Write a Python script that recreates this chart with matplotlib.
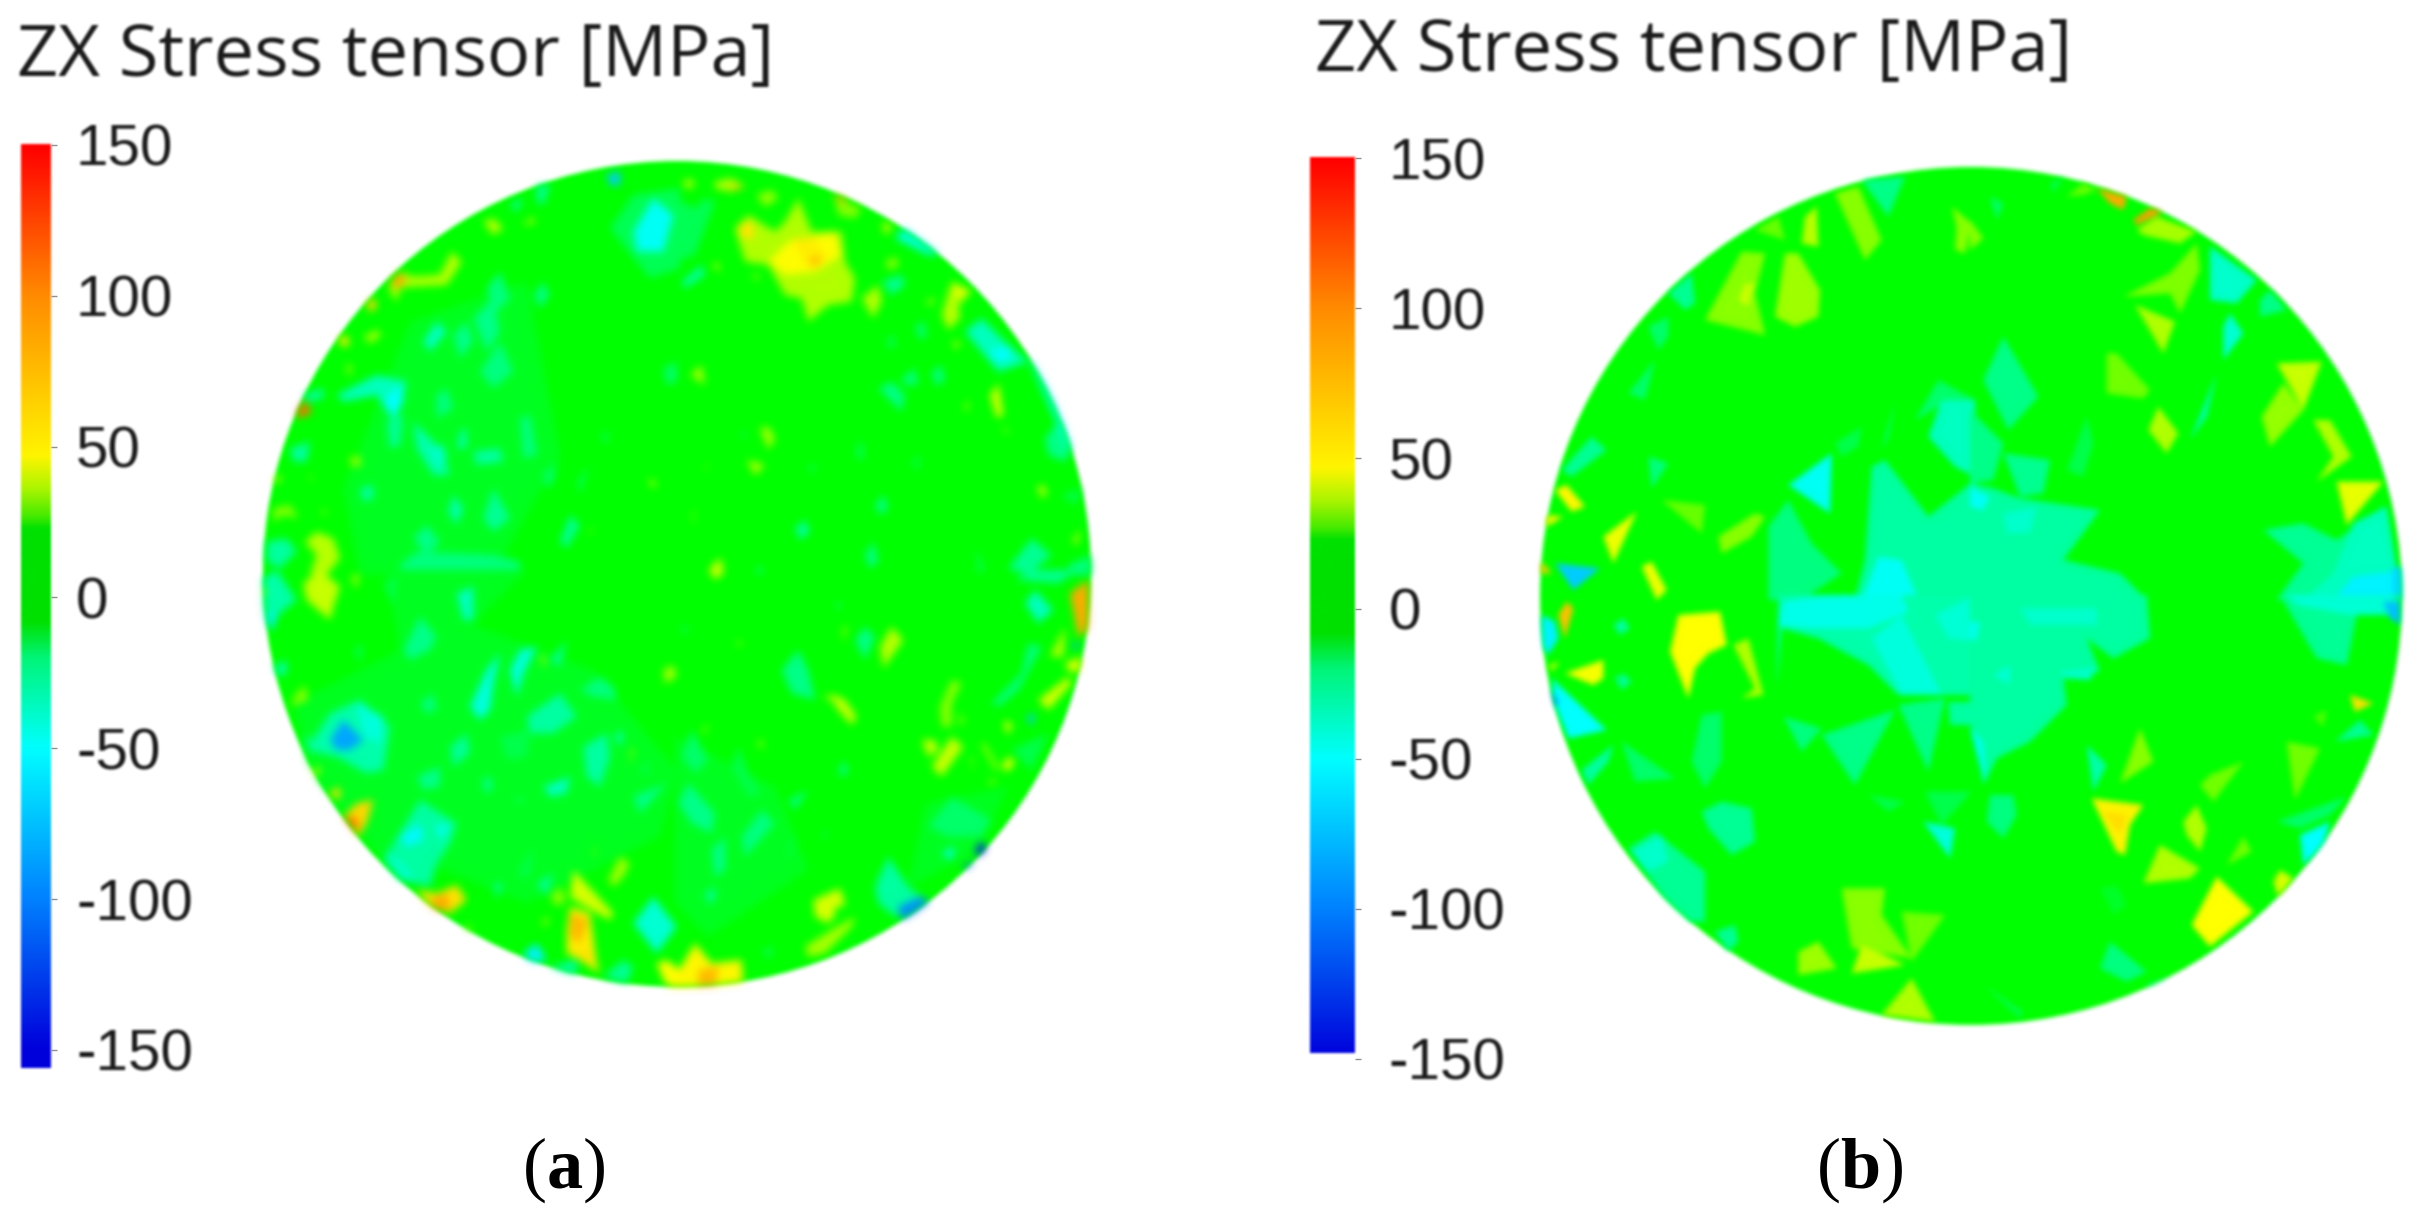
import numpy as np
import matplotlib
matplotlib.use('Agg')
import matplotlib.pyplot as plt
from matplotlib.collections import PolyCollection
from matplotlib.colors import LinearSegmentedColormap, Normalize
from matplotlib.patches import Ellipse

plt.rcParams['mathtext.fontset'] = 'custom'
plt.rcParams['mathtext.rm'] = 'Liberation Serif'
plt.rcParams['mathtext.bf'] = 'Liberation Serif:bold'

title = 'ZX Stress tensor [MPa]'
ticks = [150, 100, 50, 0, -50, -100, -150]
tick_labels = ['150', '100', '50', '0', '-50', '-100', '-150']
base_value = 8

# colour scale: value, rgb
scale_values = [-150, -100, -50, -20, -8, 23, 27, 36, 47, 100, 150]
scale_rgb = [(0, 0, 220), (0, 130, 255), (0, 255, 255), (0, 255, 128), (0, 255, 0),
             (0, 255, 0), (70, 255, 0), (170, 255, 0), (255, 255, 0), (255, 140, 0), (255, 0, 0)]
bar_rgb = [(0, 0, 220), (0, 130, 255), (0, 255, 255), (0, 245, 120), (0, 225, 0),
           (0, 225, 0), (70, 235, 0), (170, 245, 0), (255, 245, 0), (255, 140, 0), (255, 0, 0)]

# stress patches, one row per patch: value, x1, y1, x2, y2, ...
# (positions are in 3x crop pixels of each quarter of the disc)
a_ul = [
    (-11, 450,500, 800,380, 900,900, 700,1260, 300,1260, 250,1000, 350,750),
    (-16, 1050,220, 1120,120, 1260,100, 1260,340, 1170,370),
    (-48, 1120,230, 1180,130, 1240,180, 1210,290, 1130,290),
    (-20, 820,420, 850,380, 870,420, 840,460), (-20, 680,400, 720,350, 750,430, 700,480),
    (-35, 490,560, 530,500, 560,530, 510,590), (-22, 580,540, 620,500, 640,560, 600,610),
    (-22, 640,490, 700,430, 720,530, 680,590), (-20, 660,650, 720,560, 760,650, 700,700),
    (-35, 230,720, 350,660, 440,680, 420,760, 400,800, 350,720, 250,740),
    (-50, 370,740, 420,690, 430,740, 400,780), (-25, 380,800, 430,780, 420,870, 390,880),
    (-30, 460,800, 540,880, 570,960, 520,960, 470,880), (-38, 510,880, 550,870, 560,920, 530,930),
    (-28, 640,890, 720,880, 730,920, 650,930), (-20, 780,790, 810,780, 830,900, 790,910),
    (-18, 850,960, 890,920, 880,980, 860,1000), (-15, 950,980, 990,930, 960,1020),
    (-30, 580,1020, 610,1060, 590,1110, 565,1070), (-25, 700,1000, 750,1090, 700,1130, 670,1090),
    (-25, 900,1160, 930,1080, 960,1110, 920,1180), (-28, 300,1000, 340,990, 340,1030, 310,1040),
    (-22, 460,1150, 500,1110, 540,1160, 500,1200), (-28, 20,1160, 80,1150, 110,1190, 60,1240, 20,1220),
    (-30, 130,720, 190,700, 190,730, 140,740), (-28, 90,880, 150,860, 140,920, 100,920),
    (-20, 420,1230, 470,1190, 700,1200, 780,1220, 780,1260, 420,1260),
    (-20, 530,720, 560,700, 580,760, 530,790), (-28, 600,830, 620,820, 620,880, 590,880),
    (-15, 1020,840, 1050,830, 1040,870), (-18, 1210,640, 1250,620, 1250,680, 1220,690),
    (-70, 1040,60, 1080,50, 1080,90, 1050,90), (-25, 830,90, 870,90, 850,150, 830,140),
    (-30, 750,150, 790,130, 770,170),
    (38, 670,200, 700,190, 730,220, 700,240), (36, 785,210, 820,185, 825,205),
    (38, 390,380, 420,350, 460,365, 540,360, 575,290, 605,320, 560,390, 450,395, 420,400, 410,440, 390,410),
    (85, 390,390, 420,350, 440,380, 410,400), (65, 320,440, 345,430, 350,460, 325,470),
    (36, 310,545, 350,525, 365,540, 330,565), (55, 235,550, 260,540, 270,570, 245,575),
    (36, 260,630, 270,625, 275,660, 262,655), (110, 112,770, 135,735, 155,775, 110,790),
    (33, 265,910, 300,900, 305,930, 280,940), (33, 40,1060, 90,1050, 115,1090, 70,1080, 40,1100),
    (38, 135,1160, 170,1130, 220,1150, 240,1210, 200,1260, 150,1260, 170,1200),
    (30, 180,1070, 200,1060, 195,1085), (33, 145,965, 155,960, 155,980),
    (34, 1170,970, 1190,985, 1185,1000, 1165,985), (40, 40,960, 70,970, 45,985),
    (30, 985,1120, 1000,1125, 990,1140),
]
a_ur = [
    (-16, 0,130, 60,160, 90,130, 120,140, 60,300, 0,320), (-28, 20,380, 80,330, 90,360, 30,400),
    (-42, 660,250, 690,215, 800,300, 760,300), (-25, 620,380, 680,360, 690,390, 650,420),
    (-35, 870,530, 920,490, 1000,570, 1060,620, 970,650), (-50, 940,590, 1000,570, 1010,610, 970,620),
    (-18, 720,510, 750,500, 755,550, 730,550), (-15, 635,550, 660,540, 660,580, 640,580),
    (-22, 610,700, 650,680, 690,720, 680,770, 640,730), (-20, 680,670, 720,640, 730,690, 690,690),
    (-20, 770,650, 800,630, 810,680, 780,690), (-15, 540,890, 560,850, 570,910, 550,915),
    (-15, 710,920, 735,900, 730,950), (-22, 600,1050, 625,1020, 640,1060, 615,1080),
    (-28, 360,1120, 390,1095, 405,1130, 375,1155), (-22, 570,1200, 595,1160, 610,1220, 585,1240),
    (-22, 1110,850, 1150,800, 1190,880, 1170,920, 1120,900), (-25, 1000,1240, 1070,1150, 1130,1200, 1060,1260),
    (-15, 1160,1020, 1220,1000, 1200,1050), (-15, 900,1180, 930,1240, 910,1260),
    (-20, 1180,1230, 1250,1200, 1250,1260, 1190,1260), (-15, 195,830, 215,830, 205,855),
    (-15, 400,930, 425,930, 410,960), (-20, 240,1240, 270,1240, 250,1260),
    (-50, 1060,610, 1100,640, 1210,870, 1180,880),
    (37, 180,220, 220,180, 300,230, 330,200, 370,130, 410,230, 500,230, 510,320, 540,370, 530,440, 460,450, 400,500, 380,430, 330,420, 280,330, 210,320),
    (48, 280,320, 340,260, 480,230, 500,300, 420,350, 330,360), (55, 350,250, 420,250, 450,310, 400,340),
    (75, 400,310, 450,300, 420,340), (58, 190,215, 230,195, 240,250, 200,250),
    (36, 20,80, 50,70, 60,90, 40,105), (38, 120,80, 170,70, 210,95, 170,110, 120,100),
    (75, 170,90, 210,95, 170,105), (34, 245,120, 290,105, 310,130, 270,155),
    (34, 110,330, 130,320, 135,355), (30, 225,360, 255,355, 250,380),
    (33, 630,320, 660,305, 675,330, 640,345), (37, 560,430, 610,390, 620,440, 595,490),
    (33, 750,435, 785,430, 765,455), (38, 800,480, 830,380, 890,410, 850,450, 855,490, 820,525),
    (45, 830,385, 885,405, 850,430), (35, 830,560, 860,560, 840,585),
    (42, 945,720, 970,685, 985,780, 965,790), (33, 865,760, 880,730, 880,770),
    (37, 1085,995, 1110,990, 1115,1020, 1100,1030), (33, 985,810, 1000,830, 990,840),
    (35, 1190,1160, 1215,1120, 1210,1170), (33, 480,130, 560,160, 540,190, 490,180),
    (80, 470,115, 520,135, 500,145), (40, 620,200, 655,215, 630,240),
    (36, 45,660, 80,630, 90,690), (36, 255,820, 280,815, 300,850, 280,885),
    (38, 215,915, 270,930, 240,960), (33, 90,930, 98,930, 95,950),
    (30, 50,1070, 60,1070, 52,1115), (40, 110,1230, 140,1210, 145,1260, 105,1260),
]
a_ll = [
    (-11, 100,400, 600,150, 1000,300, 1250,600, 1200,800, 800,1000, 550,900, 350,850, 150,600),
    (-11, 380,0, 800,0, 600,200, 420,260),
    (-30, 0,30, 50,0, 110,90, 60,130, 30,170, 10,130), (-55, 20,130, 50,130, 40,180, 25,170),
    (-30, 40,290, 80,270, 80,310, 60,320),
    (-30, 140,540, 210,430, 300,390, 390,470, 370,600, 320,610, 230,560),
    (-42, 290,400, 370,440, 360,520, 310,500), (-85, 210,510, 250,450, 310,510, 270,540, 230,540),
    (-28, 400,820, 480,690, 590,760, 570,820, 530,880, 510,950, 420,930, 370,870),
    (-52, 420,800, 480,760, 490,810, 440,830), (-45, 520,770, 570,760, 550,810),
    (-38, 370,850, 420,870, 470,930, 430,930), (-42, 630,410, 680,300, 720,250, 700,340, 690,420, 660,450),
    (-42, 750,300, 780,240, 830,230, 790,310, 770,380), (-28, 800,440, 900,370, 950,440, 880,490, 810,490),
    (-22, 430,240, 480,140, 530,200, 510,240, 450,270), (-25, 870,270, 920,210, 900,290),
    (-35, 590,70, 640,50, 640,150, 610,150), (-15, 370,40, 410,20, 400,110),
    (-20, 480,400, 520,370, 530,420, 500,430), (-28, 970,530, 1040,490, 1050,560, 1020,650, 980,620),
    (-30, 1060,500, 1090,480, 1085,530), (-20, 960,360, 1020,320, 1060,350, 1070,390, 1000,380),
    (-35, 850,650, 930,620, 920,670, 870,680), (-22, 670,620, 700,630, 690,670, 670,660),
    (-15, 760,680, 790,680, 785,710), (-25, 570,530, 620,490, 630,550, 580,590),
    (-22, 470,620, 540,590, 540,650, 490,660), (-15, 720,500, 810,480, 800,560, 740,570),
    (-15, 780,900, 820,830, 810,910, 780,930), (-22, 700,940, 730,940, 710,990),
    (-25, 830,940, 880,910, 860,980), (-22, 1120,680, 1220,640, 1140,730),
    (-15, 1140,600, 1170,570, 1160,620), (-40, 1120,1060, 1180,980, 1250,1070, 1190,1150),
    (-55, 790,1150, 830,1120, 860,1170, 810,1180), (-30, 870,1190, 950,1170, 950,1210, 890,1220),
    (-25, 1030,1220, 1090,1170, 1120,1190, 1100,1240), (-25, 130,500, 170,510, 150,550),
    (-15, 280,240, 310,220, 300,280),
    (40, 130,40, 180,0, 240,50, 220,110, 210,150, 140,90), (33, 270,20, 300,10, 290,60),
    (33, 110,370, 135,345, 145,390, 90,410), (60, 205,670, 240,650, 240,690),
    (65, 250,740, 290,700, 340,690, 320,760, 295,800), (110, 250,740, 290,745, 295,790),
    (60, 470,960, 530,970, 590,945, 620,990, 570,1030, 510,1010), (85, 510,990, 560,970, 570,1020, 525,1020),
    (40, 150,595, 185,595, 170,620), (33, 620,1060, 640,1080, 615,1085),
    (35, 1045,930, 1080,860, 1110,880, 1090,920, 1060,950), (42, 940,900, 1060,1030, 1050,1050, 960,1000, 930,980),
    (33, 870,980, 900,950, 920,990, 890,1010),
    (55, 920,1080, 930,1010, 990,1030, 1010,1180, 1020,1210, 960,1170, 920,1150),
    (78, 930,1030, 985,1050, 960,1120, 930,1100), (60, 940,1130, 1000,1150, 980,1180),
    (33, 845,1050, 870,1040, 855,1075), (47, 1190,1180, 1220,1170, 1260,1200, 1260,1260, 1215,1240),
    (35, 840,260, 855,255, 855,300), (36, 1210,300, 1240,285, 1250,320, 1215,340),
    (30, 1110,540, 1125,530, 1110,590), (40, 0,50, 20,60, 10,85), (30, 1000,840, 1010,830, 1005,870),
]
a_lr = [
    (-11, 0,500, 300,650, 400,900, 100,1100, 0,1000), (-11, 750,700, 1000,650, 900,850, 700,950),
    (-22, 320,300, 370,240, 400,300, 420,390, 350,370), (-35, 1050,100, 1080,60, 1135,120, 1090,160),
    (-20, 950,400, 1040,310, 1060,220, 1100,230, 1030,360, 970,410), (-22, 540,210, 570,170, 600,200, 570,270),
    (-20, 490,600, 510,570, 520,610, 500,620), (-20, 480,100, 500,100, 490,120), (-15, 15,170, 40,170, 30,200),
    (-18, 20,560, 50,480, 100,570, 60,610), (-15, 170,590, 190,530, 220,610, 260,670, 220,680),
    (-22, 10,700, 40,640, 120,730, 110,790, 50,760), (-22, 110,840, 150,800, 150,900, 120,920),
    (-20, 200,800, 260,720, 300,760, 210,860), (-20, 340,690, 400,660, 360,720),
    (-25, 90,970, 120,950, 120,990, 100,1000), (-18, 760,770, 830,680, 950,750, 920,800, 820,800),
    (-45, 800,850, 840,830, 830,870), (-28, 600,950, 640,860, 700,950, 740,980, 660,1040, 610,1000),
    (-95, 670,1010, 740,980, 770,1000, 680,1050), (-135, 900,840, 920,815, 940,840, 910,860),
    (-110, 860,890, 900,870, 880,900), (-70, 1055,440, 1080,430, 1070,470),
    (-85, 1190,220, 1215,220, 1200,240), (-25, 1020,30, 1080,0, 1210,0, 1150,40),
    (-15, 440,790, 460,780, 450,810), (-15, 340,830, 360,790, 340,880), (-15, 1010,540, 1120,490, 1070,600),
    (-15, 260,1140, 300,1130, 280,1170),
    (85, 1185,70, 1240,30, 1240,180, 1210,200), (38, 1125,260, 1170,170, 1165,260),
    (45, 1170,280, 1220,260, 1210,310, 1180,300), (42, 1090,390, 1180,320, 1190,340, 1120,420),
    (42, 985,450, 1015,465, 995,495), (45, 1000,560, 1020,575, 1000,605, 980,590),
    (38, 615,230, 650,170, 685,210, 625,295), (40, 440,380, 480,375, 510,390, 545,440, 530,465, 490,420, 470,390),
    (33, 795,410, 830,330, 860,340, 830,400, 830,470, 800,470), (40, 740,510, 780,510, 790,540, 760,560),
    (40, 770,590, 830,500, 865,530, 800,620), (33, 915,520, 930,520, 975,600, 960,600),
    (33, 935,630, 970,630, 950,645), (33, 850,430, 870,450, 855,470), (30, 885,560, 895,560, 890,610),
    (42, 100,0, 145,0, 125,30), (33, 185,210, 200,215, 190,235), (33, 80,480, 105,460, 85,495),
    (33, 245,520, 260,505, 265,540), (30, 500,170, 520,170, 505,220),
    (42, 415,990, 495,955, 510,1000, 460,1060, 420,1040), (36, 390,1130, 470,1080, 540,1040, 530,1070, 450,1150, 400,1160),
    (8, 480,1010, 510,1010, 510,1040, 480,1040),
    (50, 0,1220, 60,1120, 110,1180, 200,1170, 205,1240, 100,1260, 0,1260), (78, 70,1200, 130,1190, 120,1260, 70,1260),
]
b_ul = [
    (-22, 980,60, 1110,50, 1060,170), (-25, 80,930, 170,830, 215,870, 110,950),
    (-20, 340,890, 400,910, 350,985), (-18, 340,500, 400,470, 400,530, 370,570),
    (-18, 280,700, 360,600, 330,720), (-25, 400,400, 470,340, 480,430, 450,450),
    (-48, 760,975, 890,880, 885,1060), (-70, 60,1210, 195,1225, 115,1290),
    (-20, 700,1100, 760,1020, 830,1150, 920,1240, 800,1320, 700,1320),
    (-28, 990,1200, 1010,920, 1050,900, 1180,1070, 1320,960, 1320,1320, 960,1320),
    (-48, 980,1320, 1030,1190, 1100,1200, 1150,1320),
    (-18, 1140,780, 1210,660, 1320,720, 1230,730), (-35, 1180,830, 1220,720, 1320,720, 1320,950, 1260,920),
    (-15, 900,850, 980,800, 970,860, 920,890), (-20, 1040,870, 1080,720, 1060,830),
    (33, 510,480, 620,275, 690,280, 660,400, 690,525), (40, 610,420, 630,370, 660,370, 640,440),
    (35, 720,470, 750,280, 790,280, 855,390, 850,470, 780,500), (33, 900,100, 970,80, 1040,240, 990,300),
    (38, 810,170, 845,140, 850,260, 800,250), (30, 660,210, 730,170, 750,240),
    (33, 1250,140, 1310,190, 1290,280, 1260,270, 1265,200), (33, 550,1130, 660,1060, 690,1070, 650,1130, 560,1180),
    (30, 380,1020, 510,1035, 500,1120), (45, 205,1130, 305,1055, 235,1210),
    (45, 320,1220, 350,1205, 395,1290, 365,1320), (50, 60,990, 95,975, 150,1040, 110,1055),
    (50, 30,1065, 85,1070, 35,1100), (70, 15,1200, 50,1240, 15,1240),
]
b_ur = [
    (-22, 40,660, 100,530, 205,710, 115,810), (-22, 0,750, 100,850, 70,960, 0,970),
    (-24, 100,880, 240,900, 220,1000, 150,1010), (-15, 310,880, 350,770, 370,850, 340,950, 290,930),
    (-28, 0,970, 70,985, 150,1015, 390,1050, 280,1200, 450,1240, 530,1320, 0,1320),
    (-48, 0,980, 60,1010, 40,1050, 0,1040), (-38, 100,1060, 200,1040, 180,1120, 110,1120),
    (-38, 720,260, 860,360, 800,430, 720,420), (-40, 760,500, 780,460, 820,520, 760,600),
    (-30, 660,840, 740,640, 710,770), (-22, 870,420, 900,390, 950,450, 870,470),
    (-25, 880,1110, 1000,1090, 1100,1140, 1240,1040, 1295,1320, 920,1320, 1000,1210),
    (-35, 1150,1090, 1250,1040, 1295,1320, 1000,1320, 1090,1240),
    (-55, 1090,1320, 1150,1250, 1295,1230, 1295,1320), (-65, 1270,1220, 1320,1220, 1320,1320, 1270,1320),
    (-18, 60,110, 100,130, 80,180), (-15, 240,70, 280,50, 250,100),
    (85, 380,85, 470,110, 460,150, 420,130), (90, 490,180, 540,145, 580,155, 500,195),
    (36, 500,210, 560,170, 680,215, 630,250, 520,225), (30, 290,110, 340,70, 380,90, 340,105),
    (32, 460,410, 600,340, 680,250, 690,330, 630,460, 600,400), (37, 495,435, 615,485, 580,580),
    (31, 410,580, 440,580, 540,690, 520,715, 410,700), (37, 535,810, 565,740, 625,820, 590,880),
    (34, 875,770, 940,670, 1000,750, 900,860), (40, 920,610, 1055,605, 1000,750),
    (37, 1030,780, 1080,780, 1145,890, 1040,965, 1090,890), (44, 1100,965, 1240,965, 1130,1095),
    (33, 0,180, 40,235, 0,270),
]
b_ll = [
    (-55, 20,60, 60,80, 70,130, 40,180, 20,150), (-28, 235,90, 265,70, 285,100, 255,120),
    (-25, 240,250, 265,235, 290,260, 260,285), (-50, 50,250, 215,405, 100,430, 60,330),
    (-90, 45,280, 70,320, 60,340), (-28, 140,525, 235,450, 220,500, 160,570),
    (-18, 260,440, 420,550, 300,560), (-18, 470,500, 500,360, 560,350, 560,500, 510,580),
    (-25, 500,650, 560,620, 650,640, 660,740, 590,780, 520,700),
    (-25, 280,760, 360,710, 510,830, 510,980, 440,980), (-38, 290,770, 380,720, 400,800, 340,830),
    (-25, 540,1010, 600,990, 610,1040, 580,1070),
    (-30, 725,280, 740,100, 850,130, 1000,210, 1090,300, 1210,300, 1320,300, 1320,0, 730,0),
    (-45, 730,90, 745,20, 870,0, 1100,0, 1120,50, 1000,100, 820,100), (-42, 1010,130, 1100,60, 1220,300, 1100,300),
    (-40, 1200,60, 1320,0, 1320,140, 1240,130), (-22, 860,420, 1080,345, 960,570),
    (-20, 745,365, 860,400, 800,470), (-22, 1090,330, 1230,310, 1180,530),
    (-28, 1245,390, 1320,390, 1320,320, 1240,320), (-15, 1000,600, 1110,620, 1060,650),
    (-15, 1170,590, 1310,590, 1220,690), (-42, 1165,680, 1260,700, 1245,790),
    (47, 405,170, 430,60, 555,50, 575,150, 520,175, 480,220, 460,310), (37, 595,150, 640,130, 685,300, 620,310, 660,280),
    (46, 90,235, 205,195, 205,250, 175,270), (38, 40,210, 75,200, 50,230),
    (75, 70,60, 95,20, 115,40, 90,130), (33, 920,880, 1050,880, 1040,960, 1130,1090, 950,1060),
    (31, 1100,950, 1230,960, 1130,1100), (40, 950,1135, 980,1050, 1110,1110),
    (35, 790,1070, 850,1040, 905,1120, 790,1140), (37, 1040,1260, 1130,1150, 1200,1280),
]
b_lr = [
    (-28, 0,0, 530,0, 540,130, 430,190, 350,130, 390,230, 280,250, 290,330, 180,440, 80,490, 40,570, 0,380),
    (-40, 70,240, 120,210, 120,270), (-38, 270,230, 380,215, 360,255, 280,250), (-38, 150,40, 380,40, 380,90, 180,90),
    (-45, 0,400, 40,440, 50,560, 20,480), (-45, 0,80, 30,80, 20,140, 0,130),
    (-30, 350,450, 410,510, 370,590), (-20, 60,600, 130,600, 140,660, 100,730, 50,680),
    (-25, 930,0, 1290,0, 1280,60, 1160,60, 1130,210, 1040,190), (-40, 950,0, 1270,0, 1270,60, 1140,60, 980,30),
    (-75, 1240,20, 1290,20, 1290,90, 1260,70), (-25, 1095,440, 1170,375, 1210,420),
    (-18, 920,680, 1130,605, 1080,660, 990,700), (-50, 990,720, 1080,680, 1060,750, 1000,810),
    (-20, 390,1120, 420,1040, 530,1130, 470,1160), (-12, 390,880, 440,870, 470,930, 430,960),
    (-15, 40,1170, 160,1250, 150,1270), (-30, 530,1170, 640,1130, 560,1190),
    (52, 365,610, 520,630, 480,690, 465,780, 440,770), (62, 400,650, 470,660, 450,720),
    (33, 450,565, 510,400, 550,500), (37, 640,680, 680,630, 710,700, 690,770, 650,720),
    (37, 520,865, 570,750, 690,820, 660,850), (31, 690,570, 720,540, 820,500, 730,620),
    (31, 770,810, 820,725, 845,770), (47, 665,990, 740,845, 850,950, 720,1055),
    (42, 910,860, 930,825, 970,850, 925,905), (31, 950,440, 1050,460, 975,615),
    (60, 1140,300, 1210,325, 1155,350), (28, 1030,365, 1070,345, 1060,395),
]

norm = Normalize(-150, 150)
stops = [(v + 150) / 300 for v in scale_values]
field_cmap = LinearSegmentedColormap.from_list(
    'field', [(s, tuple(c / 255 for c in rgb)) for s, rgb in zip(stops, scale_rgb)], N=1024)
bar_cmap = LinearSegmentedColormap.from_list(
    'bar', [(s, tuple(c / 255 for c in rgb)) for s, rgb in zip(stops, bar_rgb)], N=1024)


def soften(reach):
    # the reference is a blurry screenshot, so smear the layer a bit
    def blur(img, dpi):
        pad = 2 * reach + 2
        a = np.pad(img, ((pad, pad), (pad, pad), (0, 0))).astype(float)
        a[..., :3] *= a[..., 3:]
        for _ in range(2):
            for axis in (0, 1):
                a = sum(np.roll(a, k, axis=axis) for k in range(-reach, reach + 1)) / (2 * reach + 1)
        alpha = np.maximum(a[..., 3:], 1e-6)
        a[..., :3] = np.clip(a[..., :3] / alpha, 0, 1)
        return a, -pad, -pad
    return blur


def quarter(rows, x0, y0):
    polys = []
    vals = []
    for row in rows:
        xy = np.array(row[1:], dtype=float).reshape(-1, 2)
        polys.append(xy / 3 + (x0, y0))
        vals.append(row[0])
    return polys, vals


def draw_disc(ax, centre, rx, ry, quarters, reach):
    disc = Ellipse(centre, 2 * rx, 2 * ry, facecolor=field_cmap(norm(base_value)), edgecolor='none')
    ax.add_patch(disc)
    disc.set_agg_filter(soften(2))
    polys = []
    vals = []
    for rows, x0, y0 in quarters:
        p, v = quarter(rows, x0, y0)
        polys += p
        vals += v
    coll = PolyCollection(polys, array=np.array(vals, dtype=float), cmap=field_cmap, norm=norm,
                          edgecolors='none')
    ax.add_collection(coll)
    coll.set_clip_path(disc)
    coll.set_agg_filter(soften(reach))


def draw_bar(fig, left, right, top, bottom, vmin, vmax, ylow, yhigh, pad):
    H = 1216.0
    W = 2424.0
    cax = fig.add_axes([left / W, (H - bottom) / H, (right - left) / W, (bottom - top) / H])
    cax.patch.set_alpha(0)
    vals = np.linspace(vmax, vmin, 600).reshape(-1, 1)
    im = cax.imshow(vals, cmap=bar_cmap, norm=norm, extent=(0, 1, vmin, vmax), aspect='auto')
    im.set_agg_filter(soften(1))
    cax.set_xlim(0, 1)
    cax.set_ylim(ylow, yhigh)
    cax.set_xticks([])
    cax.yaxis.tick_right()
    cax.set_yticks(ticks, tick_labels, family='Liberation Sans', fontsize=42, color='#1a1a1a')
    cax.tick_params(axis='y', length=4, width=1, color='#909090', pad=pad)
    for s in cax.spines.values():
        s.set_visible(False)
    for t in cax.get_yticklabels():
        t.set_agg_filter(soften(1))
    return cax


fig = plt.figure(figsize=(24.24, 12.16), dpi=100, facecolor='white')
ax = fig.add_axes([0, 0, 1, 1])
ax.set_xlim(0, 2424)
ax.set_ylim(1216, 0)
ax.axis('off')

draw_disc(ax, (677, 574), 414, 413,
          [(a_ul, 260, 155), (a_ur, 675, 155), (a_ll, 260, 570), (a_lr, 675, 570)], 3)
draw_disc(ax, (1971, 596), 431, 429,
          [(b_ul, 1535, 160), (b_ur, 1970, 160), (b_ll, 1535, 595), (b_lr, 1970, 595)], 2)

draw_bar(fig, 21, 51, 144, 1068, -156, 150.3, -156, 150.3, 14)
draw_bar(fig, 1310, 1355, 157, 1059, -148, 150.4, -150, 150.4, 20)

for x, y in [(17, 76), (1315, 71)]:
    t = ax.text(x, y, title, family='Open Sans', fontsize=52, color='#1a1a1a', va='baseline', ha='left')
    t.set_agg_filter(soften(1))
ax.text(564, 1170, r'($\mathbf{a}$)', family='Liberation Serif', fontsize=52, color='black',
        ha='center', va='center')
ax.text(1860, 1170, r'($\mathbf{b}$)', family='Liberation Serif', fontsize=52, color='black',
        ha='center', va='center')

fig.savefig('out.png', dpi=100)
